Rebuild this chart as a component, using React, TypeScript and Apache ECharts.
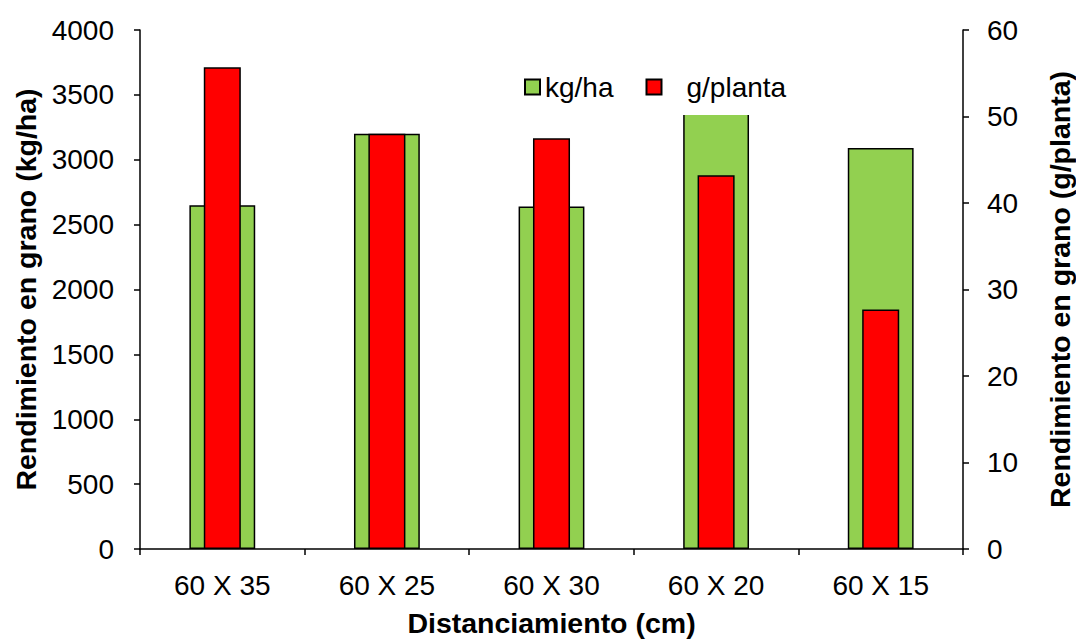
import React, { useEffect, useRef } from "react";
import * as echarts from "echarts";

// Distances between rows x between plants (cm)
const categories = ["60 X 35", "60 X 25", "60 X 30", "60 X 20", "60 X 15"];
// Grain yield per hectare (kg/ha)
const yieldKgHa = [2650, 3200, 2640, 3420, 3090];
// Grain yield per plant (g/planta)
const yieldGPlanta = [55.7, 48.0, 47.5, 43.2, 27.7];

const leftTicks = { min: 0, max: 4000, interval: 500 };
const rightTicks = { min: 0, max: 60, interval: 10 };

const FONT = "'Liberation Sans', Arial, sans-serif";

export default function App() {
  const ref = useRef<HTMLDivElement>(null);

  useEffect(() => {
    if (!ref.current) return;
    const chart = echarts.init(ref.current, undefined, { renderer: "svg" });
    const axisLine = { show: true, lineStyle: { color: "#000", width: 1.5 } };
    const axisTick = { show: true, length: 6, lineStyle: { color: "#000", width: 1.5 } };
    const label = { color: "#000", fontSize: 28, fontFamily: FONT };
    const title = { color: "#000", fontSize: 28.5, fontWeight: "bold" as const, fontFamily: FONT };
    const plain = (v: number) => String(v);

    chart.setOption({
      animation: false,
      backgroundColor: "#fff",
      textStyle: { fontFamily: FONT },
      grid: {
        left: 140,
        right: 113,
        top: 30,
        bottom: 90,
        containLabel: false,
        outerBoundsMode: "none",
      },
      legend: {
        top: 63,
        left: 516,
        padding: [10, 8, 14, 8],
        backgroundColor: "#fff",
        itemWidth: 15,
        itemHeight: 15,
        itemGap: 32,
        icon: "rect",
        textStyle: {
          color: "#000",
          fontSize: 28,
          fontFamily: FONT,
          rich: { s: { width: 20 } },
        },
        formatter: (n: string) => (n === "g/planta" ? "{s|}" + n : n),
        data: ["kg/ha", "g/planta"],
      },
      xAxis: [
        {
          type: "category",
          data: categories,
          axisLine,
          axisTick,
          axisLabel: { ...label, margin: 22 },
          name: "Distanciamiento (cm)",
          nameLocation: "middle",
          nameGap: 59,
          nameTextStyle: title,
        },
        {
          type: "category",
          data: categories,
          show: false,
        },
      ],
      yAxis: [
        {
          type: "value",
          ...leftTicks,
          position: "left",
          axisLine,
          axisTick,
          splitLine: { show: false },
          axisLabel: { ...label, margin: 26, formatter: plain },
          name: "Rendimiento en grano (kg/ha)",
          nameLocation: "middle",
          nameGap: 100,
          nameTextStyle: title,
        },
        {
          type: "value",
          ...rightTicks,
          position: "right",
          axisLine,
          axisTick,
          splitLine: { show: false },
          axisLabel: { ...label, margin: 24, formatter: plain },
          name: "Rendimiento en grano (g/planta)",
          nameLocation: "middle",
          nameGap: 82,
          nameRotate: 90,
          nameTextStyle: title,
        },
      ],
      series: [
        {
          name: "kg/ha",
          type: "bar",
          xAxisIndex: 0,
          yAxisIndex: 0,
          data: yieldKgHa,
          barWidth: "40%",
          itemStyle: { color: "#92D050", borderColor: "#000", borderWidth: 1.5 },
          z: 2,
        },
        {
          name: "g/planta",
          type: "bar",
          xAxisIndex: 1,
          yAxisIndex: 1,
          data: yieldGPlanta,
          barWidth: "22.5%",
          itemStyle: { color: "#FF0000", borderColor: "#000", borderWidth: 1.5 },
          z: 3,
        },
      ],
    });
    return () => chart.dispose();
  }, []);

  return <div ref={ref} style={{ width: 1076, height: 639, position: "absolute", left: 0, top: 0 }} />;
}
